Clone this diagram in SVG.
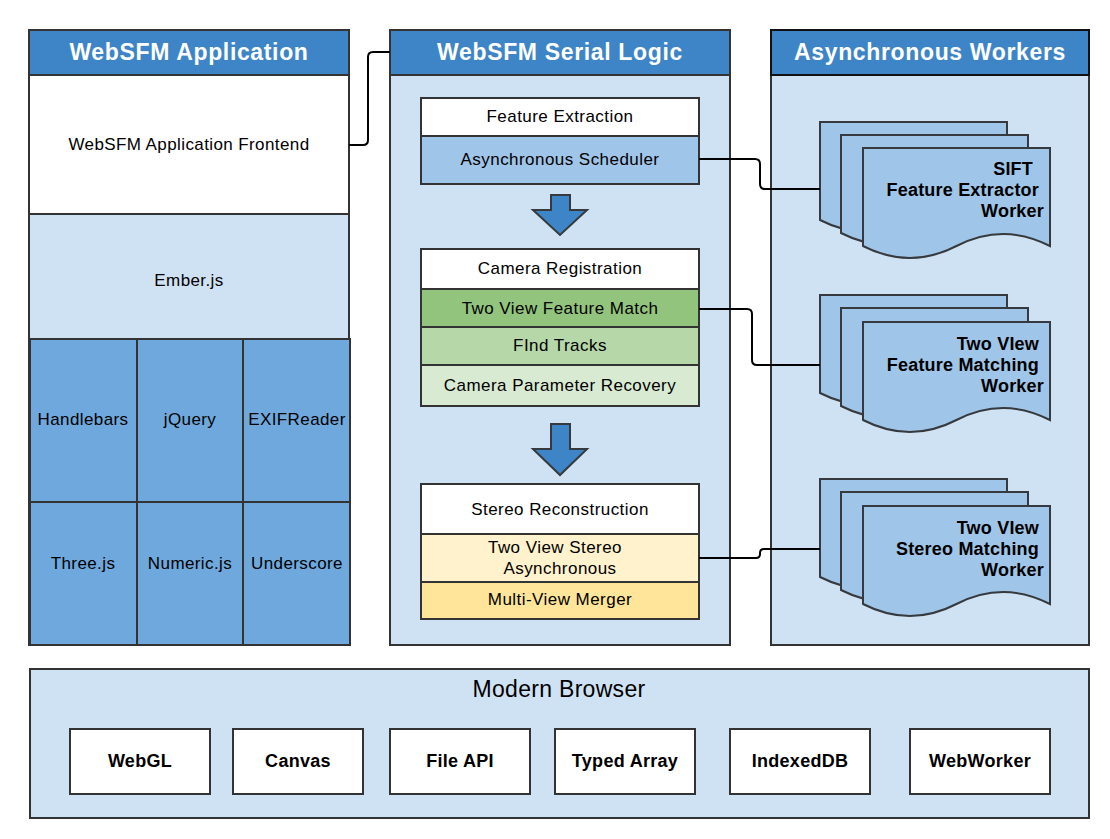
<svg xmlns="http://www.w3.org/2000/svg" width="1110" height="839" viewBox="0 0 1110 839">
<defs>
<style>
text{font-family:"Liberation Sans",Arial,sans-serif;fill:#000;}
.hdr{fill:#3D85C6;stroke:#333;stroke-width:2;}
.hdrt{fill:#fff;font-weight:bold;font-size:23px;letter-spacing:0.65px;text-anchor:middle;}
.pan{fill:#CFE2F3;stroke:#333;stroke-width:2;}
.box{stroke:#333;stroke-width:2;}
.c{text-anchor:middle;}
.t16{font-size:17px;letter-spacing:0.4px;}
.t15{font-size:17px;letter-spacing:0.45px;}
.b16{font-size:18px;font-weight:bold;letter-spacing:0.3px;text-anchor:middle;}
.doc{fill:#9FC5E8;stroke:#36393d;stroke-width:2;}
.dt{font-size:18px;font-weight:bold;letter-spacing:0.2px;text-anchor:end;}
.arr{fill:#3D85C6;stroke:#36393d;stroke-width:2;}
.con{fill:none;stroke:#000;stroke-width:2;}
</style>
<path id="d" d="M0,0 H187 V98 Q140,74 93.5,98 Q47,122 0,98 Z"/>
</defs>

<g id="app">
<rect class="pan" x="29" y="30" width="320" height="615" fill="#fff"/>
<rect class="hdr" x="29" y="30" width="320" height="45"/>
<text class="hdrt" x="189" y="60">WebSFM Application</text>
<rect class="box" x="29" y="75" width="320" height="139" fill="#fff"/>
<text class="c t16" x="189" y="150">WebSFM Application Frontend</text>
<rect class="box" x="29" y="214" width="320" height="125" fill="#CFE2F3"/>
<text class="c t16" x="189" y="286">Ember.js</text>
<g fill="#6FA8DC">
<rect class="box" x="30" y="339" width="107" height="163"/>
<rect class="box" x="137" y="339" width="106" height="163"/>
<rect class="box" x="243" y="339" width="107" height="163"/>
<rect class="box" x="30" y="502" width="107" height="143"/>
<rect class="box" x="137" y="502" width="106" height="143"/>
<rect class="box" x="243" y="502" width="107" height="143"/>
</g>
<text class="c t16" x="83" y="425">Handlebars</text>
<text class="c t16" x="190" y="425">jQuery</text>
<text class="c t16" x="297" y="425">EXIFReader</text>
<text class="c t16" x="83" y="569">Three.js</text>
<text class="c t16" x="190" y="569">Numeric.js</text>
<text class="c t16" x="297" y="569">Underscore</text>
</g>

<g id="serial">
<rect class="pan" x="390" y="30" width="340" height="615"/>
<rect class="hdr" x="390" y="30" width="340" height="45"/>
<text class="hdrt" x="560" y="60">WebSFM Serial Logic</text>
</g>

<g id="feature-extraction">
<rect class="box" x="421" y="98" width="278" height="38" fill="#fff"/>
<rect class="box" x="421" y="136" width="278" height="48" fill="#9FC5E8"/>
<text class="c t15" x="560" y="122">Feature Extraction</text>
<text class="c t15" x="560" y="165">Asynchronous Scheduler</text>
</g>
<path id="arrow1" class="arr" d="M551,195 H570 V210 H587 L560,235 L533,210 H551 Z"/>

<g id="camera-registration">
<rect class="box" x="421" y="249" width="278" height="40" fill="#fff"/>
<rect class="box" x="421" y="289" width="278" height="38" fill="#93C47D"/>
<rect class="box" x="421" y="327" width="278" height="38" fill="#B6D7A8"/>
<rect class="box" x="421" y="365" width="278" height="41" fill="#D9EAD3"/>
<text class="c t15" x="560" y="274">Camera Registration</text>
<text class="c t15" x="560" y="314">Two View Feature Match</text>
<text class="c t15" x="560" y="351">FInd Tracks</text>
<text class="c t15" x="560" y="391">Camera Parameter Recovery</text>
</g>
<path id="arrow2" class="arr" d="M551,424 H570 V449 H587 L560,475 L533,449 H551 Z"/>

<g id="stereo-reconstruction">
<rect class="box" x="421" y="484" width="278" height="50" fill="#fff"/>
<rect class="box" x="421" y="534" width="278" height="48" fill="#FFF2CC"/>
<rect class="box" x="421" y="582" width="278" height="37" fill="#FFE599"/>
<text class="c t15" x="560" y="515">Stereo Reconstruction</text>
<text class="c t15" x="555" y="553">Two View Stereo</text>
<text class="c t15" x="560" y="574">Asynchronous</text>
<text class="c t15" x="560" y="605">Multi-View Merger</text>
</g>

<g id="workers">
<rect class="pan" x="771" y="30" width="318" height="615"/>
<rect class="hdr" x="771" y="30" width="318" height="45" style="stroke:#111"/>
<text class="hdrt" x="930" y="60">Asynchronous Workers</text>
</g>

<g id="sift-worker">
<use href="#d" class="doc" x="820" y="122"/>
<use href="#d" class="doc" x="841" y="135"/>
<use href="#d" class="doc" x="863" y="148"/>
<text class="dt" x="1033" y="175">SIFT</text>
<text class="dt" x="1039" y="196">Feature Extractor</text>
<text class="dt" x="1044" y="217">Worker</text>
</g>

<g id="match-worker">
<use href="#d" class="doc" x="820" y="295"/>
<use href="#d" class="doc" x="841" y="308"/>
<use href="#d" class="doc" x="863" y="322"/>
<text class="dt" x="1039" y="350">Two VIew</text>
<text class="dt" x="1039" y="371">Feature Matching</text>
<text class="dt" x="1044" y="392">Worker</text>
</g>

<g id="stereo-worker">
<use href="#d" class="doc" x="820" y="479"/>
<use href="#d" class="doc" x="841" y="492"/>
<use href="#d" class="doc" x="863" y="506"/>
<text class="dt" x="1039" y="534">Two VIew</text>
<text class="dt" x="1039" y="555">Stereo Matching</text>
<text class="dt" x="1044" y="576">Worker</text>
</g>

<g id="browser">
<rect class="pan" x="30" y="669" width="1059" height="149"/>
<text class="c" x="559" y="697" style="font-size:23px;letter-spacing:0.3px">Modern Browser</text>
<g fill="#fff">
<rect class="box" x="70" y="729" width="140" height="65"/>
<rect class="box" x="233" y="729" width="130" height="65"/>
<rect class="box" x="390" y="729" width="140" height="65"/>
<rect class="box" x="555" y="729" width="140" height="65"/>
<rect class="box" x="730" y="729" width="140" height="65"/>
<rect class="box" x="910" y="729" width="140" height="65"/>
</g>
<text class="b16" x="140" y="767">WebGL</text>
<text class="b16" x="298" y="767">Canvas</text>
<text class="b16" x="460" y="767">File API</text>
<text class="b16" x="625" y="767">Typed Array</text>
<text class="b16" x="800" y="767">IndexedDB</text>
<text class="b16" x="980" y="767">WebWorker</text>
</g>

<g id="connectors">
<path class="con" d="M349,145 H363 Q368,145 368,140 V57 Q368,52 373,52 H390"/>
<path class="con" d="M699,159 H755 Q760,159 760,164 V184 Q760,189 765,189 H820"/>
<path class="con" d="M699,309 H747 Q752,309 752,314 V360 Q752,365 757,365 H820"/>
<path class="con" d="M699,558 H756 Q760,558 760,554 V553 Q760,549 764,549 H820"/>
</g>
</svg>
